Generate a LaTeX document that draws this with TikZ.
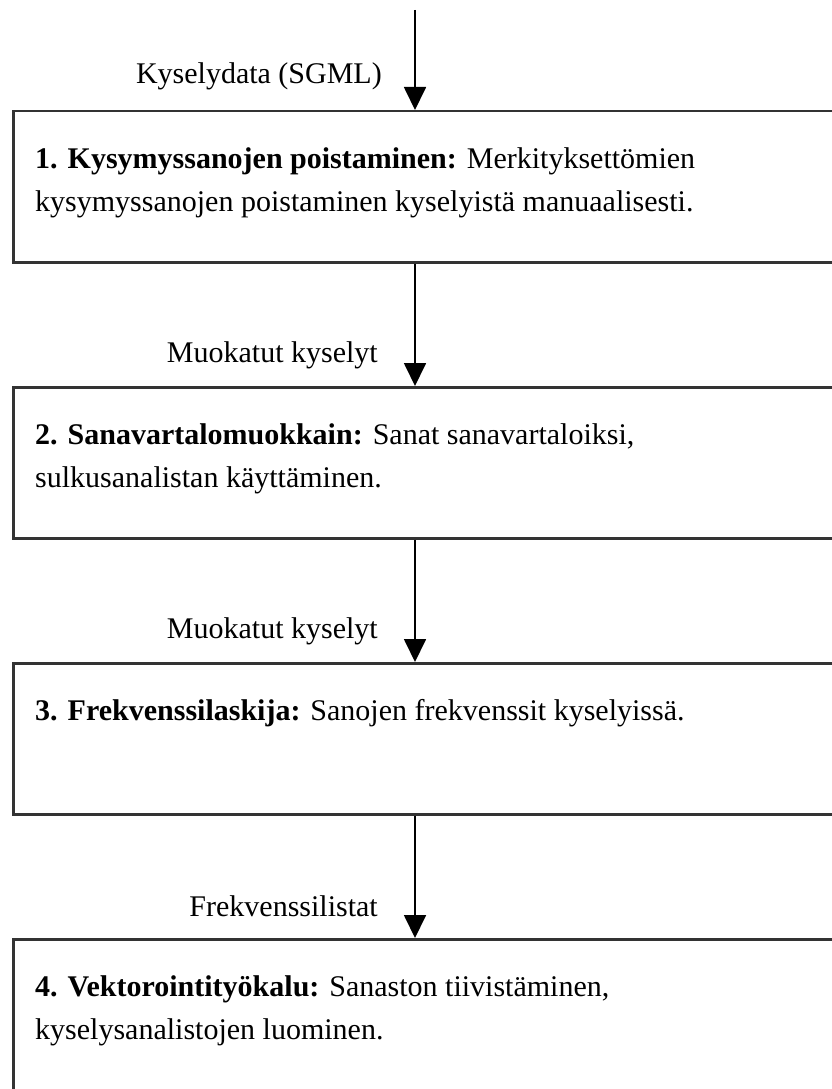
\documentclass[tikz,border=0pt]{standalone}
\usepackage{fontspec}
\setmainfont{Liberation Serif}
\usetikzlibrary{arrows.meta}
\tikzset{
  stage/.style={draw=black!80, line width=2.5pt, minimum width=850pt,
    minimum height=151pt, anchor=north west, inner sep=0pt},
  laststage/.style={stage, minimum height=180pt},
  flow/.style={line width=1.8pt, -{Triangle[width=22pt,length=23pt]}},
  txt/.style={anchor=base west, inner sep=0pt, font=\fontsize{30}{36}\selectfont},
  lbl/.style={anchor=base east, inner sep=0pt, font=\fontsize{30}{36}\selectfont},
}
\begin{document}
\begin{tikzpicture}[x=1pt,y=-1pt]
\useasboundingbox (0,0) rectangle (832,1089);

% processing stages
\node[stage] (b1) at (12,110) {};
\node[stage] (b2) at (12,386) {};
\node[stage] (b3) at (12,662) {};
\node[laststage] (b4) at (12,938) {};

% stage descriptions
\node[txt] (t1a) at (35,168) {\textbf{1. Kysymyssanojen poistaminen:} Merkityksettömien};
\node[txt] (t1b) at (35,211) {kysymyssanojen poistaminen kyselyistä manuaalisesti.};
\node[txt] (t2a) at (35,444) {\textbf{2. Sanavartalomuokkain:} Sanat sanavartaloiksi,};
\node[txt] (t2b) at (35,487) {sulkusanalistan käyttäminen.};
\node[txt] (t3a) at (35,720) {\textbf{3. Frekvenssilaskija:} Sanojen frekvenssit kyselyissä.};
\node[txt] (t4a) at (35,996) {\textbf{4. Vektorointityökalu:} Sanaston tiivistäminen,};
\node[txt] (t4b) at (35,1039) {kyselysanalistojen luominen.};

% data flow between stages
\coordinate (src) at (415,10);
\draw[flow] (src) -- (src |- b1.north);
\draw[flow] (b1.south -| src) -- (b2.north -| src);
\draw[flow] (b2.south -| src) -- (b3.north -| src);
\draw[flow] (b3.south -| src) -- (b4.north -| src);

% flow labels
\node[lbl] (l1) at (382,84) {Kyselydata (SGML)};
\node[lbl] (l2) at (378,362) {Muokatut kyselyt};
\node[lbl] (l3) at (378,638) {Muokatut kyselyt};
\node[lbl] (l4) at (378,916) {Frekvenssilistat};
\end{tikzpicture}
\end{document}
